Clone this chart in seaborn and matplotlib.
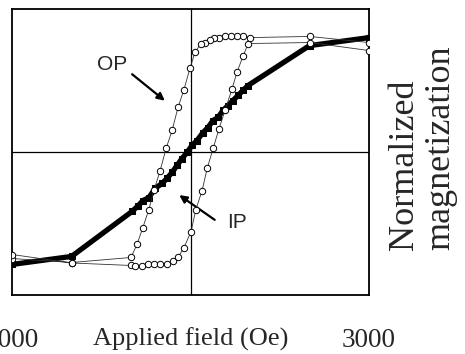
"""Hysteresis loops: out-of-plane (OP) vs in-plane (IP) normalized magnetization"""
import numpy as np
import pandas as pd
import matplotlib
matplotlib.use("Agg")
import matplotlib.pyplot as plt
import matplotlib.transforms as mtransforms
import seaborn as sns

# OP loop, open circles: descending branch then ascending branch
op_field = [3000, 2000, 1000, 880, 780, 680, 580, 480, 400, 330, 240, 175, 75, -10,
            -110, -210, -310, -410, -510, -610, -700, -800, -900, -1000, -2000, -3000,
            -3000, -2000, -1000, -930, -815, -715, -615, -515, -395, -295, -210, -110,
            10, 90, 195, 280, 380, 480, 580, 700, 780, 880, 970, 2000, 3000]
op_mag = [0.957, 1.01, 1.0, 1.018, 1.018, 1.01, 1.018, 1.0, 1.0, 0.983, 0.957, 0.948, 0.87, 0.73,
          0.546, 0.389, 0.188, 0.031, -0.162, -0.328, -0.503, -0.66, -0.808, -0.922, -0.966, -0.931,
          -0.896, -0.97, -0.992, -1.0, -1.0, -0.983, -0.983, -0.983, -0.975, -0.957, -0.922, -0.835,
          -0.695, -0.503, -0.337, -0.144, 0.031, 0.205, 0.363, 0.555, 0.695, 0.835, 0.948, 0.957, 0.887]

# IP curve, filled squares
ip_field = [-3000, -2000, -983, -890, -798, -697, -597, -479, -395, -311, -227, -143, -59,
            25, 109, 210, 294, 378, 462, 546, 630, 714, 798, 882, 966, 2000, 3000]
ip_mag = [-0.983, -0.913, -0.52, -0.475, -0.424, -0.398, -0.319, -0.275, -0.231, -0.179, -0.118,
          -0.057, -0.004, 0.057, 0.1, 0.17, 0.214, 0.275, 0.302, 0.363, 0.406, 0.45, 0.494,
          0.538, 0.581, 0.93, 1.0]

x_ticks = [-3000, 3000]
x_tick_labels = ["\u22123000", "3000"]

op_df = pd.DataFrame({"field": op_field, "mag": op_mag})
ip_df = pd.DataFrame({"field": ip_field, "mag": ip_mag})

sns.set_theme(style="white")
plt.rcParams["font.family"] = ["Liberation Serif", "DejaVu Serif"]

fig = plt.figure(figsize=(4.65, 3.54), dpi=100)
ax = fig.add_axes([12 / 465, 59 / 354, 357 / 465, 286 / 354])

# Cross-hair through the origin
ax.axhline(0, color="black", lw=0.9, zorder=1)
ax.axvline(0, color="black", lw=0.9, zorder=1)

sns.lineplot(data=ip_df, x="field", y="mag", sort=False, estimator=None, ax=ax,
             color="black", lw=3.8, marker="s", markersize=5, markeredgecolor="black",
             zorder=3)
sns.lineplot(data=op_df, x="field", y="mag", sort=False, estimator=None, ax=ax,
             color="#333333", lw=0.6, marker="o", markersize=4.6, markerfacecolor="white",
             markeredgecolor="black", markeredgewidth=0.7, zorder=4)

ax.set_xlim(-3000, 3000)
ax.set_ylim(-1.25, 1.25)
ax.set_xticks(x_ticks)
ax.set_xticklabels(x_tick_labels, fontsize=19.5)
ax.set_yticks([])
ax.set_ylabel("")
ax.tick_params(axis="x", length=0, pad=24)

# left tick label sits partly off the page in the original
lbl = ax.get_xticklabels()[0]
lbl.set_transform(lbl.get_transform() + mtransforms.ScaledTranslation(-8 / 100, 0, fig.dpi_scale_trans))

for s in ax.spines.values():
    s.set_color("black")
    s.set_linewidth(1.3)

ax.set_xlabel("Applied field (Oe)", fontsize=19)
ax.xaxis.set_label_coords(0.5, -0.113)
ax.xaxis.label.set_va("top")

# Right-hand y label, lines start at the same height
ax.text(1.052, 0.157, "Normalized\nmagnetization", transform=ax.transAxes, fontsize=26,
        rotation=90, ha="left", va="bottom", multialignment="left", linespacing=1.15)

# Labels with arrows
ax.text(-1319, 0.765, "OP", fontsize=15, family="Liberation Sans", ha="center", va="center")
ax.annotate("", xy=(-395, 0.433), xytext=(-1017, 0.695),
            arrowprops=dict(arrowstyle="-|>", lw=1.6, color="black", mutation_scale=11))
ax.text(782, -0.616, "IP", fontsize=15, family="Liberation Sans", ha="center", va="center")
ax.annotate("", xy=(-227, -0.363), xytext=(445, -0.607),
            arrowprops=dict(arrowstyle="-|>", lw=1.6, color="black", mutation_scale=11))

fig.savefig("out.png", dpi=100)
